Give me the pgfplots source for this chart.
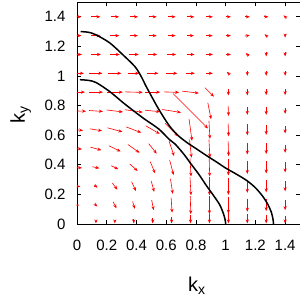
\documentclass[border=0pt]{standalone}
\usepackage{fontspec}
\setmainfont{Liberation Sans}
\usepackage{pgfplots}
\usepackage{pgfplotstable}
\pgfplotsset{compat=1.18}
\usetikzlibrary{arrows.meta}
% x, y: grid point (centre of arrow); u, v: arrow components in pixels of the reference
\pgfplotstableread{
x y u v
0 1.4 9 0
0.1273 1.4 9 0
0.2545 1.4 8.5 0
0.3818 1.4 8.5 0
0.5091 1.4 8 0
0.6364 1.4 8 0
0.7636 1.4 7.5 0
0.8909 1.4 6.7 0
1.0182 1.4 5 0
1.1455 1.4 5 0
1.2727 1.4 4.5 0
1.4 1.4 -3 3
0 1.2727 9 0
0.1273 1.2727 9 0
0.2545 1.2727 9 0
0.3818 1.2727 8.5 0
0.5091 1.2727 8 0
0.6364 1.2727 8 0
0.7636 1.2727 7 0
0.8909 1.2727 6.5 0
1.0182 1.2727 5 0
1.1455 1.2727 5 1
1.2727 1.2727 -3 3
1.4 1.2727 0 -4
0 1.1455 10 0
0.1273 1.1455 10 0
0.2545 1.1455 10 0
0.3818 1.1455 10 0
0.5091 1.1455 9 0
0.6364 1.1455 9 0
0.7636 1.1455 8 0
0.8909 1.1455 7 0
1.0182 1.1455 5 0
1.1455 1.1455 -3 3
1.2727 1.1455 0 -4
1.4 1.1455 0 -4
0 1.0182 14 0
0.1273 1.0182 13 0
0.2545 1.0182 13 0
0.3818 1.0182 11 0
0.5091 1.0182 11.5 0
0.6364 1.0182 11.5 0
0.7636 1.0182 8.5 0
0.8909 1.0182 6.7 0
1.0182 1.0182 -3 3
1.1455 1.0182 0 -5
1.2727 1.0182 0 -5
1.4 1.0182 0 -5
0 0.8909 16 0
0.1273 0.8909 14 0
0.2545 0.8909 16 0
0.3818 0.8909 18 -0.5
0.5091 0.8909 15 0
0.6364 0.8909 15 -0.5
0.7636 0.8909 16.6 -2
0.8909 0.8909 9 -9
1.0182 0.8909 0 -6.7
1.1455 0.8909 0 -6.5
1.2727 0.8909 0 -6
1.4 0.8909 0 -6
0 0.7636 18 -0.5
0.1273 0.7636 14 -1
0.2545 0.7636 16.3 -2
0.3818 0.7636 18 -2.5
0.5091 0.7636 15 -1.5
0.6364 0.7636 18.7 -3
0.7636 0.7636 35 -35
0.8909 0.7636 3.3 -16.6
1.0182 0.7636 0.5 -10
1.1455 0.7636 0 -7.7
1.2727 0.7636 0 -7.7
1.4 0.7636 0 -5.7
0 0.6364 12 -1.5
0.1273 0.6364 12.3 -2
0.2545 0.6364 15 -4
0.3818 0.6364 15 -5.7
0.5091 0.6364 14 -8
0.6364 0.6364 13 -13
0.7636 0.6364 3 -22
0.8909 0.6364 1 -18
1.0182 0.6364 0.5 -13
1.1455 0.6364 0 -11
1.2727 0.6364 0 -10
1.4 0.6364 0 -7.3
0 0.5091 10 -1
0.1273 0.5091 11 -3
0.2545 0.5091 11.7 -5.7
0.3818 0.5091 11.7 -8.3
0.5091 0.5091 8 -10
0.6364 0.5091 5 -15
0.7636 0.5091 2 -18
0.8909 0.5091 1 -18
1.0182 0.5091 0.5 -15
1.1455 0.5091 0 -11.7
1.2727 0.5091 0 -10.7
1.4 0.5091 0 -8.3
0 0.3818 10 -1
0.1273 0.3818 7 -1.5
0.2545 0.3818 7 -3.5
0.3818 0.3818 8 -7
0.5091 0.3818 5 -11.7
0.6364 0.3818 4 -15
0.7636 0.3818 1 -18
0.8909 0.3818 0.5 -18
1.0182 0.3818 0 -16
1.1455 0.3818 0 -13
1.2727 0.3818 0 -12
1.4 0.3818 0 -10
0 0.2545 6.6 -0.5
0.1273 0.2545 3.3 -2.7
0.2545 0.2545 5 -6.7
0.3818 0.2545 4.3 -9.3
0.5091 0.2545 3 -11
0.6364 0.2545 2.3 -15
0.7636 0.2545 1 -18
0.8909 0.2545 0 -18
1.0182 0.2545 0 -17
1.1455 0.2545 0 -13
1.2727 0.2545 0 -12
1.4 0.2545 0 -10
0 0.1273 4.6 0
0.1273 0.1273 2.7 -2.7
0.2545 0.1273 3.3 -6.3
0.3818 0.1273 2.3 -7.3
0.5091 0.1273 2 -10
0.6364 0.1273 1 -15
0.7636 0.1273 0.5 -18
0.8909 0.1273 0 -18
1.0182 0.1273 0 -17
1.1455 0.1273 0 -13
1.2727 0.1273 0 -12
1.4 0.1273 0 -10
0.1273 0.0108 0 -2
0.2545 0.0141 0 -3
0.3818 0.0175 0 -4
0.5091 0.0209 0 -5
0.6364 0.0243 0 -6
0.7636 0.0310 0 -8
0.8909 0.0344 0 -9
1.0182 0.0445 0 -12
1.1455 0.0344 0 -9
1.2727 0.0310 0 -8
1.4 0.0276 0 -7
}\vf
\begin{document}
\begin{tikzpicture}
\begin{axis}[
  scale only axis, width=223pt, height=222pt,
  xmin=0, xmax=1.5, ymin=0, ymax=1.5,
  xtick={0,0.2,0.4,0.6,0.8,1,1.2,1.4},
  ytick={0,0.2,0.4,0.6,0.8,1,1.2,1.4},
  tick align=inside, major tick length=4pt,
  tick style={black, line width=0.6pt},
  axis line style={black, line width=0.8pt},
  /pgf/number format/assume math mode=true,
  ticklabel style={font=\fontsize{15}{18}\selectfont},
  xticklabel style={yshift=-12.7pt},
  yticklabel style={xshift=-8pt},
  xlabel={k\textsubscript{x}}, ylabel={k\textsubscript{y}},
  label style={font=\fontsize{20}{24}\selectfont},
  xlabel style={at={(axis description cs:0.538,-0.305)}, anchor=base},
  ylabel style={at={(axis description cs:-0.2332,0.491)}, anchor=base},
]
\addplot[red, line width=0.6pt, -{Stealth[length=4pt,width=3.2pt]},
  quiver={u=\thisrow{u}/149, v=\thisrow{v}/148}]
  table[x expr=\thisrow{x}-\thisrow{u}/298, y expr=\thisrow{y}-\thisrow{v}/296] {\vf};
\addplot[black, line width=1.5pt, smooth] coordinates {
(0.02,0.975)(0.08,0.97)(0.13,0.955)(0.22,0.895)(0.31,0.82)(0.38,0.765)(0.45,0.712)
(0.55,0.642)(0.62,0.572)(0.66,0.54)(0.72,0.47)(0.76,0.415)(0.82,0.335)(0.87,0.26)
(0.92,0.19)(0.96,0.13)(0.985,0.07)(0.996,0.03)(1.0,0)};
\addplot[black, line width=1.5pt, smooth] coordinates {
(0.025,1.30)(0.08,1.295)(0.13,1.277)(0.22,1.224)(0.31,1.142)(0.39,1.063)(0.43,1.0)
(0.465,0.93)(0.50,0.865)(0.55,0.775)(0.62,0.665)(0.68,0.598)(0.74,0.55)(0.8,0.51)
(0.87,0.463)(0.94,0.418)(1.0,0.378)(1.07,0.338)(1.14,0.295)(1.2,0.245)(1.25,0.186)
(1.285,0.13)(1.307,0.08)(1.318,0.035)(1.322,0)};
\path (rel axis cs:0,0) coordinate (O) (rel axis cs:1,1) coordinate (T);
\end{axis}
\pgfresetboundingbox
\path[use as bounding box] ([xshift=-77pt,yshift=-76pt]O) rectangle ([yshift=2pt]T);
\end{tikzpicture}
\end{document}
